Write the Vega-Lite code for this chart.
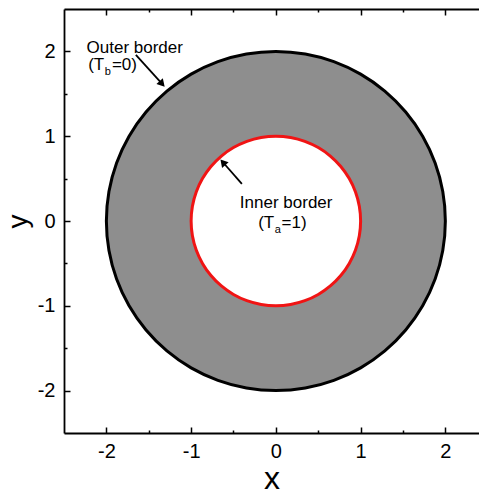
{
  "$schema": "https://vega.github.io/schema/vega-lite/v6.json",
  "width": 415,
  "height": 424,
  "autosize": "none",
  "padding": {"left": 64, "top": 9, "right": 0, "bottom": 61},
  "background": "white",
  "config": {
    "view": {"stroke": null},
    "axis": {
      "grid": false,
      "domainColor": "black",
      "domainWidth": 1.8,
      "tickColor": "black",
      "tickWidth": 1.5,
      "labelColor": "black",
      "labelFont": "Liberation Sans",
      "labelFontSize": 20,
      "titleFont": "Liberation Sans",
      "titleFontWeight": "normal",
      "titleColor": "black"
    }
  },
  "datasets": {
    "circles": [
      {"c": "outer", "i": 0, "x": 2, "y": 0},
      {"c": "outer", "i": 1, "x": 1.9696, "y": 0.3473},
      {"c": "outer", "i": 2, "x": 1.8794, "y": 0.684},
      {"c": "outer", "i": 3, "x": 1.7321, "y": 1},
      {"c": "outer", "i": 4, "x": 1.5321, "y": 1.2856},
      {"c": "outer", "i": 5, "x": 1.2856, "y": 1.5321},
      {"c": "outer", "i": 6, "x": 1, "y": 1.7321},
      {"c": "outer", "i": 7, "x": 0.684, "y": 1.8794},
      {"c": "outer", "i": 8, "x": 0.3473, "y": 1.9696},
      {"c": "outer", "i": 9, "x": 0, "y": 2},
      {"c": "outer", "i": 10, "x": -0.3473, "y": 1.9696},
      {"c": "outer", "i": 11, "x": -0.684, "y": 1.8794},
      {"c": "outer", "i": 12, "x": -1, "y": 1.7321},
      {"c": "outer", "i": 13, "x": -1.2856, "y": 1.5321},
      {"c": "outer", "i": 14, "x": -1.5321, "y": 1.2856},
      {"c": "outer", "i": 15, "x": -1.7321, "y": 1},
      {"c": "outer", "i": 16, "x": -1.8794, "y": 0.684},
      {"c": "outer", "i": 17, "x": -1.9696, "y": 0.3473},
      {"c": "outer", "i": 18, "x": -2, "y": 0},
      {"c": "outer", "i": 19, "x": -1.9696, "y": -0.3473},
      {"c": "outer", "i": 20, "x": -1.8794, "y": -0.684},
      {"c": "outer", "i": 21, "x": -1.7321, "y": -1},
      {"c": "outer", "i": 22, "x": -1.5321, "y": -1.2856},
      {"c": "outer", "i": 23, "x": -1.2856, "y": -1.5321},
      {"c": "outer", "i": 24, "x": -1, "y": -1.7321},
      {"c": "outer", "i": 25, "x": -0.684, "y": -1.8794},
      {"c": "outer", "i": 26, "x": -0.3473, "y": -1.9696},
      {"c": "outer", "i": 27, "x": 0, "y": -2},
      {"c": "outer", "i": 28, "x": 0.3473, "y": -1.9696},
      {"c": "outer", "i": 29, "x": 0.684, "y": -1.8794},
      {"c": "outer", "i": 30, "x": 1, "y": -1.7321},
      {"c": "outer", "i": 31, "x": 1.2856, "y": -1.5321},
      {"c": "outer", "i": 32, "x": 1.5321, "y": -1.2856},
      {"c": "outer", "i": 33, "x": 1.7321, "y": -1},
      {"c": "outer", "i": 34, "x": 1.8794, "y": -0.684},
      {"c": "outer", "i": 35, "x": 1.9696, "y": -0.3473},
      {"c": "inner", "i": 0, "x": 1, "y": 0},
      {"c": "inner", "i": 1, "x": 0.9848, "y": 0.1736},
      {"c": "inner", "i": 2, "x": 0.9397, "y": 0.342},
      {"c": "inner", "i": 3, "x": 0.866, "y": 0.5},
      {"c": "inner", "i": 4, "x": 0.766, "y": 0.6428},
      {"c": "inner", "i": 5, "x": 0.6428, "y": 0.766},
      {"c": "inner", "i": 6, "x": 0.5, "y": 0.866},
      {"c": "inner", "i": 7, "x": 0.342, "y": 0.9397},
      {"c": "inner", "i": 8, "x": 0.1736, "y": 0.9848},
      {"c": "inner", "i": 9, "x": 0, "y": 1},
      {"c": "inner", "i": 10, "x": -0.1736, "y": 0.9848},
      {"c": "inner", "i": 11, "x": -0.342, "y": 0.9397},
      {"c": "inner", "i": 12, "x": -0.5, "y": 0.866},
      {"c": "inner", "i": 13, "x": -0.6428, "y": 0.766},
      {"c": "inner", "i": 14, "x": -0.766, "y": 0.6428},
      {"c": "inner", "i": 15, "x": -0.866, "y": 0.5},
      {"c": "inner", "i": 16, "x": -0.9397, "y": 0.342},
      {"c": "inner", "i": 17, "x": -0.9848, "y": 0.1736},
      {"c": "inner", "i": 18, "x": -1, "y": 0},
      {"c": "inner", "i": 19, "x": -0.9848, "y": -0.1736},
      {"c": "inner", "i": 20, "x": -0.9397, "y": -0.342},
      {"c": "inner", "i": 21, "x": -0.866, "y": -0.5},
      {"c": "inner", "i": 22, "x": -0.766, "y": -0.6428},
      {"c": "inner", "i": 23, "x": -0.6428, "y": -0.766},
      {"c": "inner", "i": 24, "x": -0.5, "y": -0.866},
      {"c": "inner", "i": 25, "x": -0.342, "y": -0.9397},
      {"c": "inner", "i": 26, "x": -0.1736, "y": -0.9848},
      {"c": "inner", "i": 27, "x": 0, "y": -1},
      {"c": "inner", "i": 28, "x": 0.1736, "y": -0.9848},
      {"c": "inner", "i": 29, "x": 0.342, "y": -0.9397},
      {"c": "inner", "i": 30, "x": 0.5, "y": -0.866},
      {"c": "inner", "i": 31, "x": 0.6428, "y": -0.766},
      {"c": "inner", "i": 32, "x": 0.766, "y": -0.6428},
      {"c": "inner", "i": 33, "x": 0.866, "y": -0.5},
      {"c": "inner", "i": 34, "x": 0.9397, "y": -0.342},
      {"c": "inner", "i": 35, "x": 0.9848, "y": -0.1736}
    ],
    "arrows": [
      {"name": "outer", "x": -1.652, "y": 1.959, "x2": -1.342, "y2": 1.617},
      {"name": "inner", "x": -0.401, "y": 0.437, "x2": -0.625, "y2": 0.693}
    ],
    "labels": [
      {"kind": "main", "t": "Outer border", "x": -2.234, "y": 1.985},
      {"kind": "main", "t": "(T", "x": -2.215, "y": 1.778},
      {"kind": "sub", "t": "b", "x": -2.018, "y": 1.72},
      {"kind": "main", "t": "=0)", "x": -1.935, "y": 1.778},
      {"kind": "main", "t": "Inner border", "x": -0.425, "y": 0.155},
      {"kind": "main", "t": "(T", "x": -0.209, "y": -0.078},
      {"kind": "sub", "t": "a", "x": -0.012, "y": -0.136},
      {"kind": "main", "t": "=1)", "x": 0.067, "y": -0.078}
    ]
  },
  "resolve": {"axis": {"x": "independent", "y": "independent"}},
  "layer": [
    {
      "data": {"name": "circles"},
      "transform": [{"filter": "datum.c === 'outer'"}],
      "mark": {"type": "line", "interpolate": "cardinal-closed", "fill": "#8e8e8e", "stroke": "black", "strokeWidth": 3},
      "encoding": {
        "x": {"field": "x", "type": "quantitative", "scale": {"domain": [-2.5, 2.397], "nice": false, "zero": false},
          "axis": {"orient": "bottom", "values": [-2, -1, 0, 1, 2], "labelExpr": "'' + datum.value", "tickSize": -6, "labelPadding": 14, "title": "x", "titleFontSize": 32, "titlePadding": 2}},
        "y": {"field": "y", "type": "quantitative", "scale": {"domain": [-2.5, 2.5], "nice": false, "zero": false},
          "axis": {"orient": "left", "values": [-2, -1, 0, 1, 2], "labelExpr": "'' + datum.value", "tickSize": -6, "labelPadding": 15, "title": "y", "titleFontSize": 28, "titlePadding": 5}},
        "order": {"field": "i", "type": "quantitative"}
      }
    },
    {
      "data": {"name": "circles"},
      "transform": [{"filter": "datum.c === 'inner'"}],
      "mark": {"type": "line", "interpolate": "cardinal-closed", "fill": "white", "stroke": "#f01414", "strokeWidth": 3},
      "encoding": {
        "x": {"field": "x", "type": "quantitative", "scale": {"domain": [-2.5, 2.397], "nice": false, "zero": false},
          "axis": {"orient": "bottom", "values": [-1.5, -0.5, 0.5, 1.5], "tickSize": -3, "labels": false, "domain": false, "title": null}},
        "y": {"field": "y", "type": "quantitative", "scale": {"domain": [-2.5, 2.5], "nice": false, "zero": false},
          "axis": {"orient": "left", "values": [-1.5, -0.5, 0.5, 1.5], "tickSize": -3, "labels": false, "domain": false, "title": null}},
        "order": {"field": "i", "type": "quantitative"}
      }
    },
    {
      "data": {"name": "arrows"},
      "mark": {"type": "rule", "color": "black", "strokeWidth": 1.8},
      "encoding": {
        "x": {"field": "x", "type": "quantitative", "scale": {"domain": [-2.5, 2.397], "nice": false, "zero": false},
          "axis": {"orient": "top", "values": [-2, -1, 0, 1, 2], "tickSize": -6, "labels": false, "title": null}},
        "y": {"field": "y", "type": "quantitative", "scale": {"domain": [-2.5, 2.5], "nice": false, "zero": false}, "axis": null},
        "x2": {"field": "x2"},
        "y2": {"field": "y2"}
      }
    },
    {
      "data": {"name": "arrows"},
      "transform": [{"filter": "datum.name === 'outer'"}],
      "mark": {"type": "point", "shape": "triangle-up", "filled": true, "color": "black", "opacity": 1, "size": 75, "angle": 138},
      "encoding": {
        "x": {"field": "x2", "type": "quantitative", "scale": {"domain": [-2.5, 2.397], "nice": false, "zero": false},
          "axis": {"orient": "top", "values": [-1.5, -0.5, 0.5, 1.5], "tickSize": -3, "labels": false, "domain": false, "title": null}},
        "y": {"field": "y2", "type": "quantitative", "scale": {"domain": [-2.5, 2.5], "nice": false, "zero": false}, "axis": null}
      }
    },
    {
      "data": {"name": "arrows"},
      "transform": [{"filter": "datum.name === 'inner'"}],
      "mark": {"type": "point", "shape": "triangle-up", "filled": true, "color": "black", "opacity": 1, "size": 75, "angle": 319},
      "encoding": {
        "x": {"field": "x2", "type": "quantitative", "scale": {"domain": [-2.5, 2.397], "nice": false, "zero": false}, "axis": null},
        "y": {"field": "y2", "type": "quantitative", "scale": {"domain": [-2.5, 2.5], "nice": false, "zero": false}, "axis": null}
      }
    },
    {
      "data": {"name": "labels"},
      "transform": [{"filter": "datum.kind === 'main'"}],
      "mark": {"type": "text", "align": "left", "baseline": "alphabetic", "font": "Liberation Sans", "fontSize": 17, "color": "black"},
      "encoding": {
        "x": {"field": "x", "type": "quantitative", "scale": {"domain": [-2.5, 2.397], "nice": false, "zero": false}, "axis": null},
        "y": {"field": "y", "type": "quantitative", "scale": {"domain": [-2.5, 2.5], "nice": false, "zero": false}, "axis": null},
        "text": {"field": "t"}
      }
    },
    {
      "data": {"name": "labels"},
      "transform": [{"filter": "datum.kind === 'sub'"}],
      "mark": {"type": "text", "align": "left", "baseline": "alphabetic", "font": "Liberation Sans", "fontSize": 11, "color": "black"},
      "encoding": {
        "x": {"field": "x", "type": "quantitative", "scale": {"domain": [-2.5, 2.397], "nice": false, "zero": false}, "axis": null},
        "y": {"field": "y", "type": "quantitative", "scale": {"domain": [-2.5, 2.5], "nice": false, "zero": false}, "axis": null},
        "text": {"field": "t"}
      }
    }
  ]
}
